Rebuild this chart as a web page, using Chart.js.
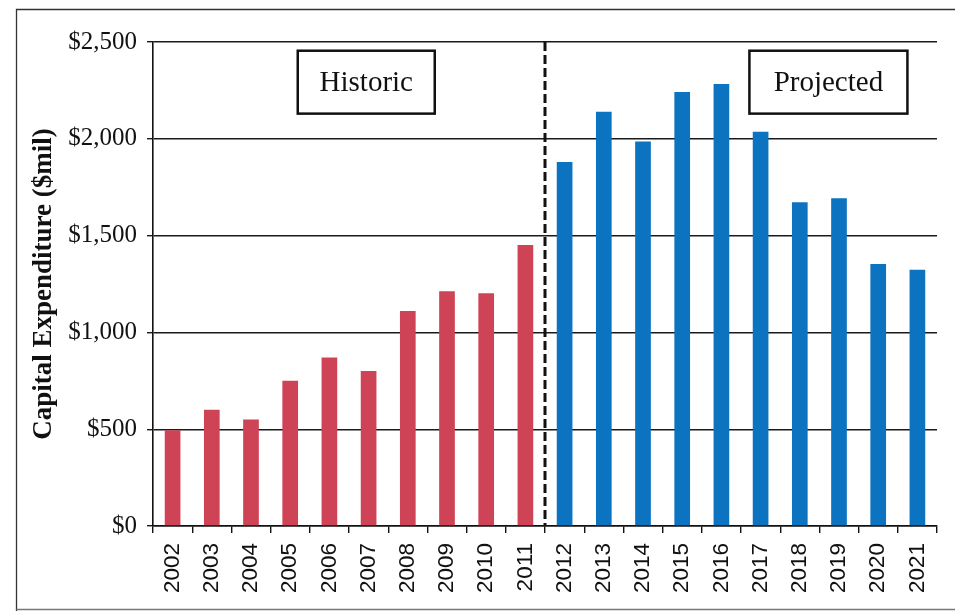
<!DOCTYPE html>
<html>
<head>
<meta charset="utf-8">
<script src="https://cdn.jsdelivr.net/npm/chart.js@4/dist/chart.umd.min.js"></script>
<style>
  html, body { margin: 0; padding: 0; background: #ffffff; }
  #wrap { position: relative; width: 955px; height: 611px; }
  canvas { display: block; }
</style>
</head>
<body>
<div id="wrap"><canvas id="capex" width="955" height="611"></canvas></div>
<script>
// Capital expenditure by year, $ millions
const historicYears = ['2002','2003','2004','2005','2006','2007','2008','2009','2010','2011'];
const historicValues = [495, 600, 550, 750, 870, 800, 1110, 1212, 1202, 1452];
const projectedYears = ['2012','2013','2014','2015','2016','2017','2018','2019','2020','2021'];
const projectedValues = [1880, 2140, 1986, 2242, 2283, 2036, 1672, 1693, 1353, 1324];
const yTicks = [0, 500, 1000, 1500, 2000, 2500];
const periodLabels = ['Historic', 'Projected'];

const historicColor = '#cf4356';
const projectedColor = '#0b73bf';

const years = historicYears.concat(projectedYears);
const values = historicValues.concat(projectedValues);
const barColors = years.map((y, i) => i < historicYears.length ? historicColor : projectedColor);

const SERIF = '"Liberation Serif", "DejaVu Serif", serif';
const SANS = '"Liberation Sans", Arial, sans-serif';

// Page frame, the dashed historic/projected divider and the two period boxes
const decorations = {
  id: 'decorations',
  beforeDraw(chart) {
    const ctx = chart.ctx;
    ctx.save();
    ctx.strokeStyle = '#333';
    ctx.lineWidth = 1.3;
    ctx.beginPath();
    ctx.moveTo(16.5, 611);
    ctx.lineTo(16.5, 9.5);
    ctx.lineTo(955, 9.5);
    ctx.stroke();
    ctx.strokeStyle = '#777';
    ctx.beginPath();
    ctx.moveTo(16.5, 609.5);
    ctx.lineTo(955, 609.5);
    ctx.stroke();
    ctx.restore();
  },
  afterDatasetsDraw(chart) {
    const {ctx, chartArea, scales: {x, y}} = chart;
    const n = historicYears.length;
    const divX = (x.getPixelForValue(n - 1) + x.getPixelForValue(n)) / 2;
    ctx.save();
    ctx.strokeStyle = '#111';
    ctx.lineWidth = 3;
    ctx.setLineDash([9, 4]);
    ctx.beginPath();
    ctx.moveTo(divX, chartArea.top);
    ctx.lineTo(divX, chartArea.bottom);
    ctx.stroke();
    ctx.setLineDash([]);

    const boxes = [
      { text: periodLabels[0], center: 4.94, w: 137, size: 29 },
      { text: periodLabels[1], center: 16.73, w: 158, size: 29 }
    ];
    const slot = x.getPixelForValue(1) - x.getPixelForValue(0);
    boxes.forEach(b => {
      const cx = x.getPixelForValue(0) + b.center * slot;
      const top = y.getPixelForValue(2455);
      const bottom = y.getPixelForValue(2130);
      ctx.fillStyle = '#ffffff';
      ctx.fillRect(cx - b.w / 2, top, b.w, bottom - top);
      ctx.strokeStyle = '#111';
      ctx.lineWidth = 2.5;
      ctx.strokeRect(cx - b.w / 2, top, b.w, bottom - top);
      ctx.fillStyle = '#111';
      ctx.font = b.size + 'px ' + SERIF;
      ctx.textAlign = 'center';
      ctx.textBaseline = 'middle';
      ctx.fillText(b.text, cx, (top + bottom) / 2 + 1);
    });
    ctx.restore();
  }
};

new Chart(document.getElementById('capex'), {
  type: 'bar',
  data: {
    labels: years,
    datasets: [{
      label: 'Capital Expenditure ($mil)',
      data: values,
      backgroundColor: barColors,
      borderWidth: 0,
      barPercentage: 0.4,
      categoryPercentage: 1.0
    }]
  },
  options: {
    responsive: false,
    animation: false,
    devicePixelRatio: 1,
    layout: { padding: { top: 42, right: 18, bottom: 0, left: 0 } },
    plugins: {
      legend: { display: false },
      tooltip: { enabled: false }
    },
    scales: {
      x: {
        grid: {
          display: true,
          drawOnChartArea: false,
          drawTicks: true,
          tickLength: 7,
          color: '#111',
          lineWidth: 1.4,
          offset: true
        },
        border: { display: true, color: '#111', width: 1.6 },
        ticks: {
          color: '#111',
          font: { family: SANS, size: 22.5 },
          minRotation: 90,
          maxRotation: 90,
          padding: 10,
          autoSkip: false
        },
        afterFit(scale) { scale.height = 611 - 526; }
      },
      y: {
        min: 0,
        max: 2500,
        afterBuildTicks(scale) { scale.ticks = yTicks.map(v => ({ value: v })); },
        grid: {
          color: '#1a1a1a',
          lineWidth: 1.4,
          tickLength: 6,
          drawTicks: true
        },
        border: { display: true, color: '#111', width: 1.6 },
        ticks: {
          color: '#111',
          font: { family: SERIF, size: 25 },
          padding: 10,
          callback: v => '$' + Number(v).toLocaleString('en-US')
        },
        title: {
          display: true,
          text: 'Capital Expenditure ($mil)',
          color: '#111',
          font: { family: SERIF, size: 27, weight: 'bold' },
          padding: { top: 28, bottom: 0 }
        },
        afterFit(scale) { scale.width = 153; }
      }
    }
  },
  plugins: [decorations]
});
</script>
</body>
</html>
